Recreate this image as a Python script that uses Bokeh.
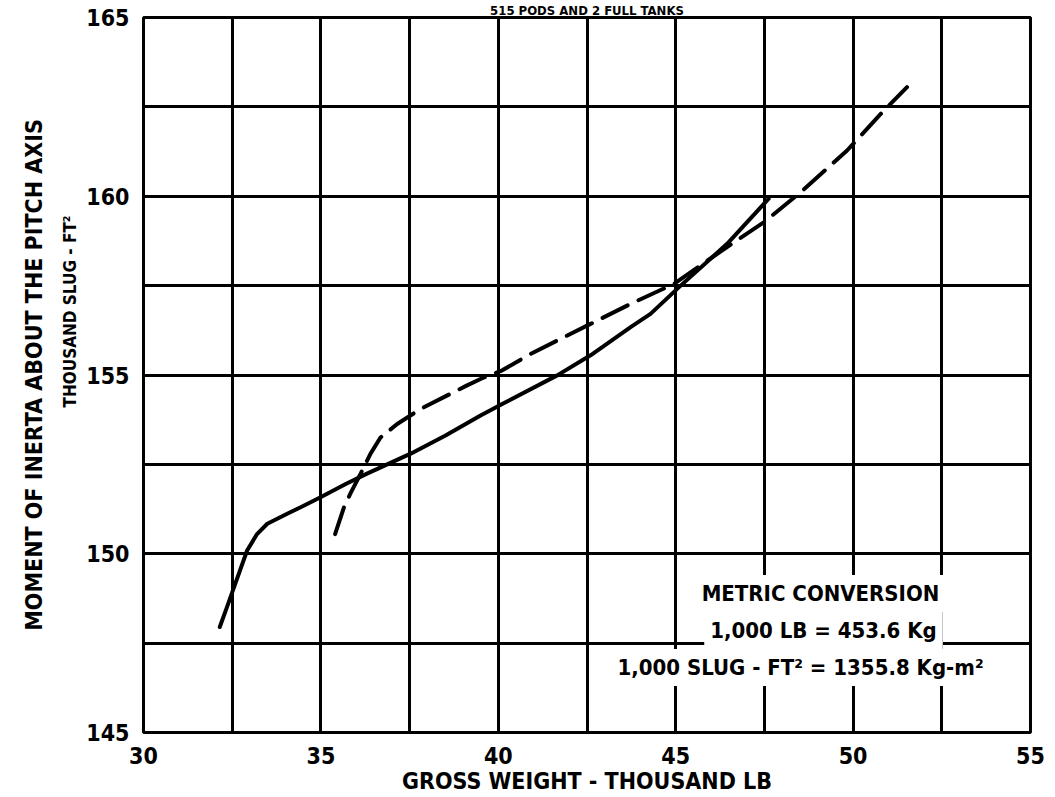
from bokeh.plotting import figure
from bokeh.models import SingleIntervalTicker, Label, Range1d, Title
from bokeh.embed import file_html
from bokeh.resources import INLINE

# Solid curve (gross weight, thousand lb ; moment of inertia, thousand slug-ft^2)
solid_x = [32.15, 32.35, 32.55, 32.92, 33.2, 33.49, 34.05, 34.43, 34.99, 35.7, 36.30,
           37.53, 38.5, 39.50, 40.11, 41.66, 42.60, 43.73, 44.29, 45.14, 46.45, 47.62]
solid_y = [147.95, 148.5, 149.06, 150.09, 150.55, 150.84, 151.12, 151.30, 151.58, 151.95, 152.24,
           152.80, 153.3, 153.87, 154.19, 154.99, 155.55, 156.34, 156.71, 157.50, 158.67, 159.93]

# Dashed curve
dash_x = [35.40, 35.65, 35.83, 36.12, 36.40, 36.68, 37.15, 37.81, 39.12, 39.50, 40.11,
          40.91, 42.60, 43.73, 44.95, 46.17, 47.48, 48.52, 49.83, 50.87, 51.52]
dash_y = [150.55, 151.30, 151.68, 152.24, 152.80, 153.25, 153.63, 154.05, 154.71, 154.89, 155.13,
          155.59, 156.43, 156.99, 157.55, 158.39, 159.27, 160.11, 161.28, 162.4, 163.05]

title_text = "515 PODS AND 2 FULL TANKS"
x_label = "GROSS WEIGHT - THOUSAND LB"
y_label_1 = "MOMENT OF INERTA ABOUT THE PITCH AXIS"
y_label_2 = "THOUSAND SLUG - FT\u00b2"
note_lines = ["METRIC CONVERSION", "1,000 LB = 453.6 Kg", "1,000 SLUG - FT\u00b2 = 1355.8 Kg-m\u00b2"]

FONT = "'Liberation Sans Narrow', 'DejaVu Sans Condensed', 'Roboto', sans-serif"

p = figure(width=1048, height=797, output_backend="svg", toolbar_location=None,
           x_range=Range1d(30, 55), y_range=Range1d(145, 165),
           min_border_left=143, min_border_right=18, min_border_top=17, min_border_bottom=65)
p.background_fill_color = "white"
p.border_fill_color = "white"
p.outline_line_color = "black"
p.outline_line_width = 3

p.title.text = title_text
p.title.align = "center"
p.title.offset = 0
p.title.standoff = 0
p.title.text_font = FONT
p.title.text_font_style = "bold"
p.title.text_font_size = "13px"
p.title.text_color = "black"

for ax in (p.xaxis[0], p.yaxis[0]):
    ax.ticker = SingleIntervalTicker(interval=5)
    ax.axis_line_color = None
    ax.major_tick_line_color = None
    ax.minor_tick_line_color = None
    ax.major_label_text_font = FONT
    ax.major_label_text_font_style = "bold"
    ax.major_label_text_font_size = "23px"
    ax.major_label_text_color = "black"
p.xaxis[0].major_label_standoff = 8
p.yaxis[0].major_label_standoff = 8

p.xaxis[0].axis_label = x_label
p.xaxis[0].axis_label_standoff = 1
p.xaxis[0].axis_label_text_font = FONT
p.xaxis[0].axis_label_text_font_style = "bold"
p.xaxis[0].axis_label_text_font_size = "23px"
p.xaxis[0].axis_label_text_color = "black"

t2 = Title(text=y_label_2, align="left", offset=325, standoff=8, text_font=FONT,
           text_font_style="bold", text_font_size="17px", text_color="black")
t1 = Title(text=y_label_1, align="center", offset=0, standoff=14, text_font=FONT,
           text_font_style="bold", text_font_size="23px", text_color="black")
p.add_layout(t2, "left")
p.add_layout(t1, "left")

p.xgrid.ticker = SingleIntervalTicker(interval=2.5)
p.ygrid.ticker = SingleIntervalTicker(interval=2.5)
for g in (p.xgrid[0], p.ygrid[0]):
    g.grid_line_color = "black"
    g.grid_line_width = 3
    g.grid_line_alpha = 1.0

px_per_y = 715 / 20.0
px_per_x = 887 / 25.0
def ydata(py):
    return 165 - (py - 17) / px_per_y
def xdata(px):
    return 30 + (px - 143) / px_per_x

note_centers = [xdata(820), xdata(823), xdata(800)]
note_ys = [ydata(593), ydata(630), ydata(667)]
for txt, cx, cy in zip(note_lines, note_centers, note_ys):
    p.add_layout(Label(x=cx, y=cy, text=txt, text_align="center", text_baseline="middle",
                       text_font=FONT, text_font_style="bold", text_font_size="22px",
                       text_color="black", background_fill_color="white",
                       background_fill_alpha=1.0, padding=6))

p.line(solid_x, solid_y, line_color="black", line_width=4, line_cap="round", line_join="round")
p.line(dash_x, dash_y, line_color="black", line_width=4, line_dash="28 12", line_cap="round")

open("out.html", "w").write(file_html(p, INLINE))
